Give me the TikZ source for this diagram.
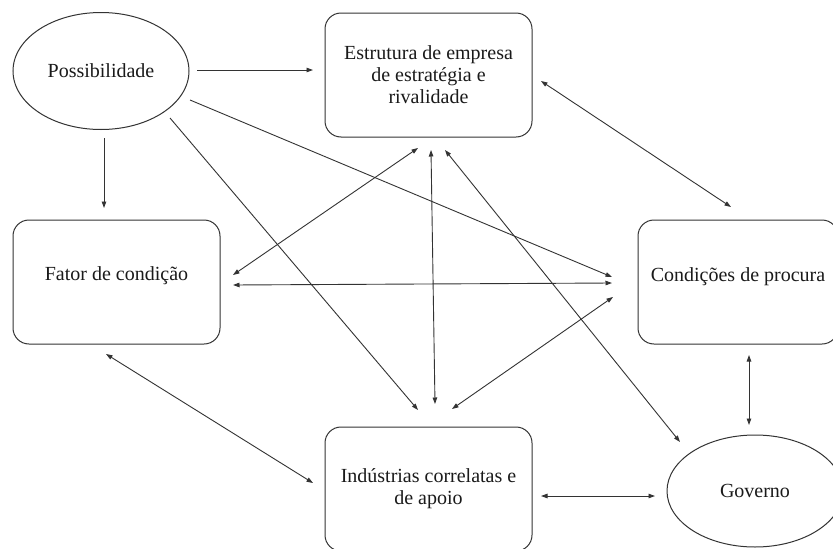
\documentclass[tikz,border=0pt]{standalone}
\usepackage{fontspec}
\setmainfont{Liberation Serif}
\usetikzlibrary{arrows.meta,shapes.geometric}
\definecolor{linecol}{HTML}{333333}
\definecolor{txtcol}{HTML}{1A1A1A}
\begin{document}
\begin{tikzpicture}[x=1pt,y=-1pt,
  every node/.style={font=\fontsize{20}{22}\selectfont, text=txtcol, inner sep=0pt},
  boxnode/.style={draw=linecol, line width=1pt, rounded corners=16pt, rectangle, align=center},
  ellnode/.style={draw=linecol, line width=1pt, ellipse},
  txtnode/.style={align=center},
  arr/.style={draw=linecol, line width=0.9pt, -{Triangle[length=6.5pt,width=4.5pt]}},
  darr/.style={draw=linecol, line width=0.9pt, {Triangle[length=6.5pt,width=4.5pt]}-{Triangle[length=6.5pt,width=4.5pt]}}]
\useasboundingbox[fill=white] (0,0) rectangle (833,549);

\node[ellnode, minimum width=176pt, minimum height=117pt] (poss) at (101,71) {Possibilidade};
\node[boxnode, minimum width=207pt, minimum height=124pt] (estr) at (428.5,75) {Estrutura de empresa\\de estratégia e\\rivalidade};
\node[boxnode, minimum width=207pt, minimum height=124pt] (fator) at (116.5,282) {};
\node[txtnode] (fatorT) at (116.5,276) {Fator de condição};
\node[boxnode, minimum width=200pt, minimum height=124pt] (cond) at (738,282) {};
\node[txtnode] (condT) at (738,277) {Condições de procura};
\node[boxnode, minimum width=207pt, minimum height=124pt] (ind) at (428.5,489) {Indústrias correlatas e\\de apoio};
\node[ellnode, minimum width=176pt, minimum height=112pt] (gov) at (755,491) {Governo};

% single arrows from Possibilidade
\draw[arr] ([shift={(96,-1)}]poss.center) -- ([shift={(-115.5,-5)}]estr.center);
\draw[arr] ([shift={(3,67)}]poss.center) -- ([shift={(-12.5,-74)}]fator.center);
\draw[arr] ([shift={(89,29)}]poss.center) -- ([shift={(-126,-5)}]cond.center);
\draw[arr] ([shift={(69,47)}]poss.center) -- ([shift={(-10.5,-79)}]ind.center);

% double arrows
\draw[darr] ([shift={(116.5,-7)}]fator.center) -- ([shift={(-10.5,73)}]estr.center);
\draw[darr] ([shift={(116.5,3)}]fator.center) -- ([shift={(-126,1)}]cond.center);
\draw[darr] ([shift={(2.5,75)}]estr.center) -- ([shift={(6.5,-85)}]ind.center);
\draw[darr] ([shift={(16.5,75)}]estr.center) -- ([shift={(-75,-49)}]gov.center);
\draw[darr] ([shift={(112.5,6)}]estr.center) -- ([shift={(-7,-75)}]cond.center);
\draw[darr] ([shift={(-10.5,72)}]fator.center) -- ([shift={(-115.5,-6)}]ind.center);
\draw[darr] ([shift={(23.5,-80)}]ind.center) -- ([shift={(-125,15)}]cond.center);
\draw[darr] ([shift={(112.5,7)}]ind.center) -- ([shift={(-100,5)}]gov.center);
\draw[darr] ([shift={(11,73)}]cond.center) -- ([shift={(-6,-66)}]gov.center);
\end{tikzpicture}
\end{document}
